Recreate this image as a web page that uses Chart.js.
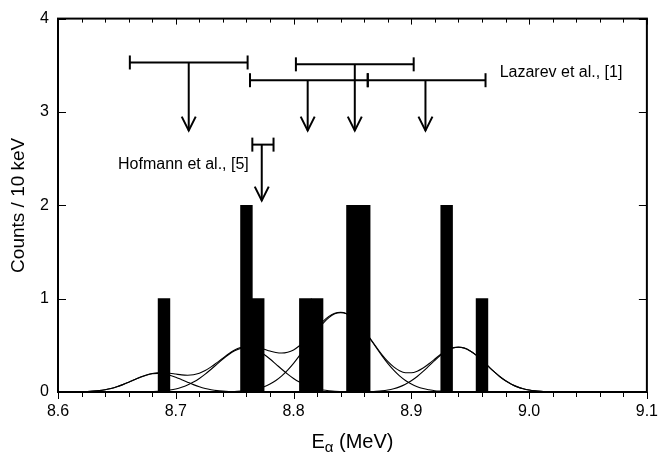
<!DOCTYPE html>
<html>
<head>
<meta charset="utf-8">
<script src="https://cdn.jsdelivr.net/npm/chart.js@4.4.1/dist/chart.umd.min.js"></script>
<style>
  html, body { margin: 0; padding: 0; background: #fff; }
</style>
</head>
<body>
<canvas id="alphaChart" width="668" height="456"></canvas>
<script>
// histogram: counts per 10 keV bin (bin centres in MeV)
const binEnergy = [8.69, 8.76, 8.77, 8.81, 8.82, 8.85, 8.86, 8.93, 8.96];
const binCounts = [1, 2, 1, 1, 1, 2, 2, 2, 1];

// fitted line shapes on a 5 keV grid
const fitE = [
  8.620, 8.625, 8.630, 8.635, 8.640, 8.645, 8.650, 8.655, 8.660, 8.665,
  8.670, 8.675, 8.680, 8.685, 8.690, 8.695, 8.700, 8.705, 8.710, 8.715,
  8.720, 8.725, 8.730, 8.735, 8.740, 8.745, 8.750, 8.755, 8.760, 8.765,
  8.770, 8.775, 8.780, 8.785, 8.790, 8.795, 8.800, 8.805, 8.810, 8.815,
  8.820, 8.825, 8.830, 8.835, 8.840, 8.845, 8.850, 8.855, 8.860, 8.865,
  8.870, 8.875, 8.880, 8.885, 8.890, 8.895, 8.900, 8.905, 8.910, 8.915,
  8.920, 8.925, 8.930, 8.935, 8.940, 8.945, 8.950, 8.955, 8.960, 8.965,
  8.970, 8.975, 8.980, 8.985, 8.990, 8.995, 9.000, 9.005, 9.010, 9.015,
  9.020, 9.025, 9.030, 9.035, 9.040, 9.045, 9.050
];
const peak1 = [
  0.003, 0.005, 0.009, 0.015, 0.025, 0.038, 0.056, 0.079, 0.105, 0.132,
  0.159, 0.180, 0.195, 0.200, 0.195, 0.180, 0.159, 0.132, 0.105, 0.079,
  0.056, 0.038, 0.025, 0.015, 0.009, 0.005, 0.003, 0.001, 0.001, 0,
  0, 0, 0, 0, 0, 0, 0, 0, 0, 0,
  0, 0, 0, 0, 0, 0, 0, 0, 0, 0,
  0, 0, 0, 0, 0, 0, 0, 0, 0, 0,
  0, 0, 0, 0, 0, 0, 0, 0, 0, 0,
  0, 0, 0, 0, 0, 0, 0, 0, 0, 0,
  0, 0, 0, 0, 0, 0, 0
];
const peak2 = [
  0, 0, 0, 0, 0, 0, 0, 0, 0, 0.001,
  0.001, 0.002, 0.004, 0.007, 0.013, 0.021, 0.033, 0.051, 0.075, 0.106,
  0.145, 0.192, 0.244, 0.299, 0.353, 0.402, 0.441, 0.466, 0.475, 0.466,
  0.441, 0.402, 0.353, 0.299, 0.244, 0.192, 0.145, 0.106, 0.075, 0.051,
  0.033, 0.021, 0.013, 0.007, 0.004, 0.002, 0.001, 0.001, 0, 0,
  0, 0, 0, 0, 0, 0, 0, 0, 0, 0,
  0, 0, 0, 0, 0, 0, 0, 0, 0, 0,
  0, 0, 0, 0, 0, 0, 0, 0, 0, 0,
  0, 0, 0, 0, 0, 0, 0
];
const peak3 = [
  0, 0, 0, 0, 0, 0, 0, 0, 0, 0,
  0, 0, 0, 0, 0, 0, 0, 0, 0, 0,
  0, 0, 0, 0.001, 0.001, 0.003, 0.005, 0.009, 0.014, 0.024,
  0.037, 0.057, 0.086, 0.124, 0.173, 0.234, 0.306, 0.389, 0.479, 0.571,
  0.659, 0.736, 0.797, 0.837, 0.850, 0.837, 0.797, 0.736, 0.659, 0.571,
  0.479, 0.389, 0.306, 0.234, 0.173, 0.124, 0.086, 0.057, 0.037, 0.024,
  0.014, 0.009, 0.005, 0.003, 0.001, 0.001, 0, 0, 0, 0,
  0, 0, 0, 0, 0, 0, 0, 0, 0, 0,
  0, 0, 0, 0, 0, 0, 0
];
const peak4 = [
  0, 0, 0, 0, 0, 0, 0, 0, 0, 0,
  0, 0, 0, 0, 0, 0, 0, 0, 0, 0,
  0, 0, 0, 0, 0, 0, 0, 0, 0, 0,
  0, 0, 0, 0, 0, 0, 0, 0, 0, 0,
  0, 0, 0, 0, 0, 0, 0, 0.001, 0.002, 0.004,
  0.007, 0.012, 0.021, 0.035, 0.055, 0.083, 0.120, 0.166, 0.220, 0.279,
  0.339, 0.395, 0.440, 0.470, 0.480, 0.470, 0.440, 0.395, 0.339, 0.279,
  0.220, 0.166, 0.120, 0.083, 0.055, 0.035, 0.021, 0.012, 0.007, 0.004,
  0.002, 0.001, 0, 0, 0, 0, 0
];
const fitSum = [
  0.003, 0.005, 0.009, 0.015, 0.025, 0.038, 0.056, 0.079, 0.105, 0.133,
  0.160, 0.182, 0.199, 0.207, 0.208, 0.201, 0.192, 0.183, 0.180, 0.185,
  0.201, 0.230, 0.269, 0.315, 0.363, 0.410, 0.449, 0.476, 0.490, 0.490,
  0.478, 0.459, 0.439, 0.423, 0.417, 0.426, 0.451, 0.495, 0.554, 0.622,
  0.692, 0.757, 0.810, 0.844, 0.854, 0.839, 0.798, 0.738, 0.661, 0.575,
  0.486, 0.401, 0.327, 0.269, 0.228, 0.207, 0.206, 0.223, 0.257, 0.303,
  0.353, 0.404, 0.445, 0.473, 0.481, 0.471, 0.440, 0.395, 0.339, 0.279,
  0.220, 0.166, 0.120, 0.083, 0.055, 0.035, 0.021, 0.012, 0.007, 0.004,
  0.002, 0.001, 0, 0, 0, 0, 0
];

// previously reported energies (error bar range + arrow)
const arrowE   = [8.711, 8.852, 8.812, 8.912, 8.773];
const arrowLo  = [8.661, 8.802, 8.763, 8.863, 8.765];
const arrowHi  = [8.761, 8.902, 8.863, 8.963, 8.783];
const arrowTop = [3.53, 3.51, 3.34, 3.34, 2.65];
const arrowTip = [2.80, 2.80, 2.80, 2.80, 2.05];
const refLabels = ['Lazarev et al., [1]', 'Hofmann et al., [5]'];

const xTicks = [8.6, 8.7, 8.8, 8.9, 9.0, 9.1];
const yTicks = [0, 1, 2, 3, 4];

const FONT = "'Liberation Sans', Arial, Helvetica, sans-serif";

const curve = (ys) => ({
  type: 'line',
  data: fitE.map((e, i) => ({ x: e, y: ys[i] })),
  borderColor: '#000',
  borderWidth: 1.1,
  pointRadius: 0,
  fill: false,
  cubicInterpolationMode: 'monotone',
});

const overlay = {
  id: 'overlay',
  afterDraw(chart) {
    const { ctx, chartArea: a, scales: { x, y } } = chart;
    const line = (x1, y1, x2, y2) => {
      ctx.beginPath(); ctx.moveTo(x1, y1); ctx.lineTo(x2, y2); ctx.stroke();
    };
    ctx.save();
    ctx.strokeStyle = '#000';
    ctx.fillStyle = '#000';

    // minor + major ticks
    ctx.lineWidth = 1;
    for (let i = 0; i <= 25; i++) {
      const px = Math.round(x.getPixelForValue(8.6 + i * 0.02)) + 0.5;
      const major = i % 5 === 0;
      line(px, a.top, px, a.top + (major ? 6 : 4));
      line(px, a.bottom, px, a.bottom + (major ? 7 : 5));
    }
    yTicks.forEach(v => {
      const py = Math.round(y.getPixelForValue(v)) + 0.5;
      line(a.left, py, a.left + 8, py);
      line(a.right, py, a.right - 8, py);
    });

    // frame
    ctx.lineWidth = 2;
    ctx.strokeRect(a.left, a.top, a.right - a.left, a.bottom - a.top);

    // error bars with arrows
    ctx.lineWidth = 2;
    arrowE.forEach((e, i) => {
      const yb = y.getPixelForValue(arrowTop[i]);
      const yt = y.getPixelForValue(arrowTip[i]);
      const xl = x.getPixelForValue(arrowLo[i]);
      const xr = x.getPixelForValue(arrowHi[i]);
      const xc = x.getPixelForValue(e);
      line(xl, yb, xr, yb);
      line(xl, yb - 7, xl, yb + 7);
      line(xr, yb - 7, xr, yb + 7);
      line(xc, yb, xc, yt);
      ctx.beginPath();
      ctx.moveTo(xc - 7, yt - 14);
      ctx.lineTo(xc, yt);
      ctx.lineTo(xc + 7, yt - 14);
      ctx.stroke();
    });

    ctx.font = '16px ' + FONT;
    ctx.textBaseline = 'middle';
    ctx.textAlign = 'left';
    ctx.fillText(refLabels[0], x.getPixelForValue(8.975), y.getPixelForValue(3.42));
    ctx.textAlign = 'right';
    ctx.fillText(refLabels[1], x.getPixelForValue(8.762), y.getPixelForValue(2.44));

    // axis titles
    const cx = (a.left + a.right) / 2;
    ctx.textBaseline = 'alphabetic';
    ctx.textAlign = 'left';
    ctx.font = '20px ' + FONT;
    const wE = ctx.measureText('E').width;
    const wU = ctx.measureText(' (MeV)').width;
    ctx.font = '15px ' + FONT;
    const wA = ctx.measureText('\u03b1').width;
    const tx = cx - (wE + wA + wU) / 2;
    const base = 448;
    ctx.font = '20px ' + FONT;
    ctx.fillText('E', tx, base);
    ctx.font = '15px ' + FONT;
    ctx.fillText('\u03b1', tx + wE, base + 4);
    ctx.font = '20px ' + FONT;
    ctx.fillText(' (MeV)', tx + wE + wA, base);

    ctx.translate(19, (a.top + a.bottom) / 2);
    ctx.rotate(-Math.PI / 2);
    ctx.textAlign = 'center';
    ctx.textBaseline = 'middle';
    ctx.font = '19px ' + FONT;
    ctx.fillText('Counts / 10 keV', 0, 0);
    ctx.restore();
  }
};

new Chart('alphaChart', {
  data: {
    datasets: [
      {
        type: 'bar',
        data: binEnergy.map((e, i) => ({ x: e, y: binCounts[i] })),
        backgroundColor: '#000',
        borderWidth: 0,
        barPercentage: 1,
        categoryPercentage: 1,
      },
      curve(peak1),
      curve(peak2),
      curve(peak3),
      curve(peak4),
      curve(fitSum),
    ],
  },
  options: {
    responsive: false,
    animation: false,
    events: [],
    layout: { padding: { left: 0, top: 17, right: 20, bottom: 0 } },
    plugins: { legend: { display: false }, tooltip: { enabled: false } },
    scales: {
      x: {
        type: 'linear',
        offset: false,
        min: 8.6,
        max: 9.1,
        afterBuildTicks: s => { s.ticks = xTicks.map(v => ({ value: v })); },
        afterFit: s => { s.height = 64; },
        grid: { display: false, drawTicks: false, offset: false },
        border: { display: false },
        ticks: {
          padding: 10,
          maxRotation: 0,
          autoSkip: false,
          color: '#000',
          font: { family: FONT, size: 16 },
          callback: v => v.toFixed(1),
        },
      },
      y: {
        type: 'linear',
        min: 0,
        max: 4,
        afterBuildTicks: s => { s.ticks = yTicks.map(v => ({ value: v })); },
        afterFit: s => { s.width = 58; },
        grid: { display: false, drawTicks: false },
        border: { display: false },
        ticks: {
          padding: 9,
          color: '#000',
          font: { family: FONT, size: 16 },
          callback: v => String(v),
        },
      },
    },
  },
  plugins: [overlay],
});
</script>
</body>
</html>
